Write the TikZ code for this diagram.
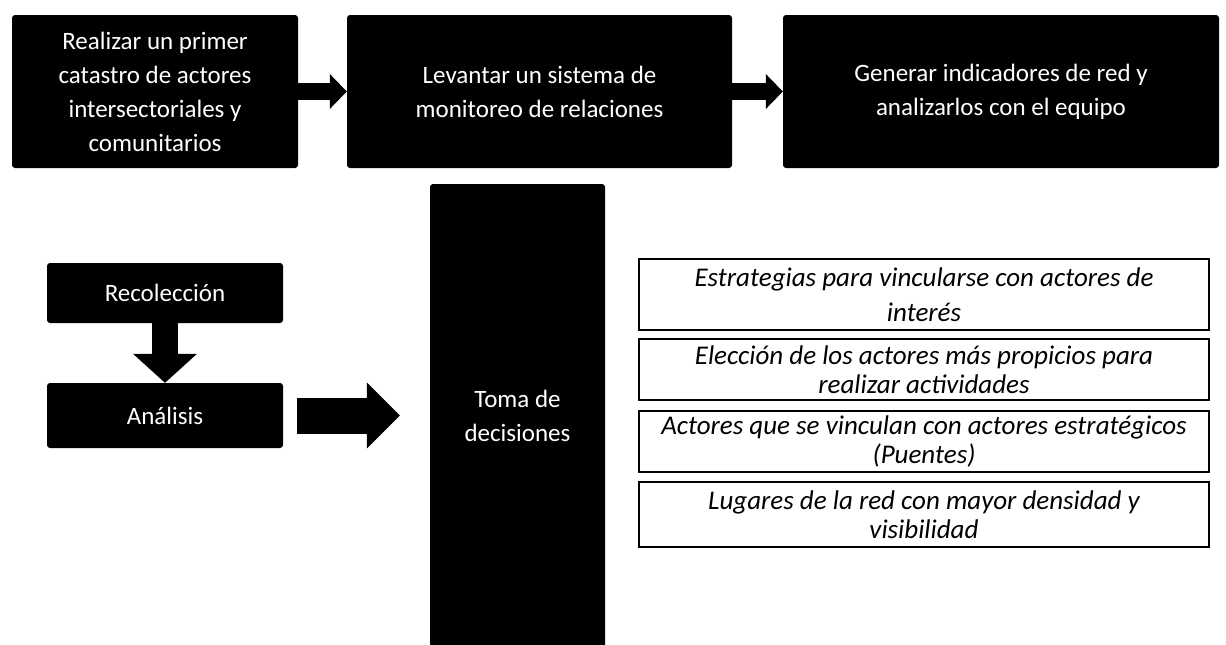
\documentclass[tikz,border=0pt]{standalone}
\usepackage{fontspec}
\setmainfont{Carlito}
\usetikzlibrary{arrows.meta}

\begin{document}
\begin{tikzpicture}[x=1pt,y=-1pt]
\tikzstyle{paso}=[fill=black, rounded corners=3pt, text=white, align=center, inner sep=0pt, font=\fontsize{25}{34}\selectfont]
\tikzstyle{item}=[draw, line width=1.5pt, align=center, inner sep=0pt, minimum width=570pt, font=\itshape\fontsize{27}{29}\selectfont]
\tikzstyle{flecha}=[line width=17pt, -{Triangle[length=17pt, width=35pt, line width=0pt]}]

\useasboundingbox (0,0) rectangle (1226,645);

\node[paso, minimum width=286pt, minimum height=153pt] (p1) at (155,91.5) {Realizar un primer\\catastro de actores\\intersectoriales y\\comunitarios};
\node[paso, minimum width=385pt, minimum height=153pt] (p2) at (539.5,91.5) {Levantar un sistema de\\monitoreo de relaciones};
\node[paso, minimum width=436pt, minimum height=153pt] (p3) at (1001,91.5) {Generar indicadores de red y\\analizarlos con el equipo};

\node[paso, minimum width=236pt, minimum height=60pt] (rec) at (165,293) {Recolección};
\node[paso, minimum width=236pt, minimum height=65pt] (ana) at (165,415.5) {Análisis};
\node[paso, minimum width=175pt, minimum height=464pt] (toma) at (517.5,416) {Toma de\\decisiones};

\foreach \i/\y/\h/\t in {1/294.5/71/{Estrategias para vincularse con actores de\\[6pt]interés},
  2/369.5/61/{Elección de los actores más propicios para\\realizar actividades},
  3/441.5/61/{Actores que se vinculan con actores estratégicos\\(Puentes)},
  4/514.5/65/{Lugares de la red con mayor densidad y\\visibilidad}} {
\node[item, minimum height=\h pt] (e\i) at (924,\y) {\t};
}

\draw[flecha] (p1) -- (p2);
\draw[flecha] (p2) -- (p3);
\draw[flecha, line width=26pt, -{Triangle[length=29pt, width=64pt, line width=0pt]}] (rec) -- (ana);
\draw[flecha, line width=36pt, -{Triangle[length=33pt, width=66pt, line width=0pt]}, shorten <=14pt, shorten >=30pt] (ana.east) -- (ana.east -| toma.west);

\end{tikzpicture}
\end{document}
